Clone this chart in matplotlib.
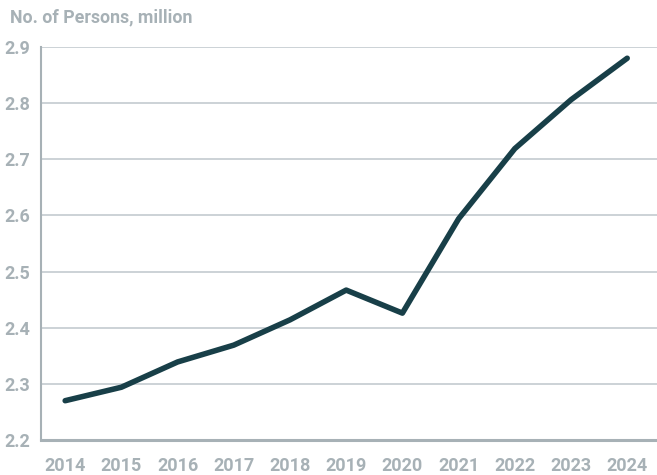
import matplotlib
matplotlib.use("Agg")
import matplotlib.pyplot as plt

years = [2014, 2015, 2016, 2017, 2018, 2019, 2020, 2021, 2022, 2023, 2024]
persons = [2.270, 2.294, 2.339, 2.369, 2.414, 2.467, 2.426, 2.594, 2.719, 2.806, 2.880]
y_ticks = [2.2, 2.3, 2.4, 2.5, 2.6, 2.7, 2.8, 2.9]

text_col = "#a7b1b6"
grid_col = "#c3cbcf"
line_col = "#183f48"

plt.rcParams["font.family"] = ["Roboto", "DejaVu Sans"]

fig = plt.figure(figsize=(6.57, 4.75), dpi=100)
ax = fig.add_axes([41 / 657, 1 - 440 / 475, 1 - 41 / 657, (440 - 47) / 475])

ax.plot(years, persons, color=line_col, linewidth=4, solid_capstyle="round",
        solid_joinstyle="round", zorder=3)

ax.set_xlim(2013.57, 2024.53)
ax.set_ylim(2.2, 2.9)
ax.set_xticks(years)
ax.set_yticks(y_ticks)
ax.set_yticklabels([f"{v:.1f}" for v in y_ticks])

for v in y_ticks[1:]:
    ax.axhline(v, color=grid_col, linewidth=1.2, zorder=1)

for s in ["top", "right"]:
    ax.spines[s].set_visible(False)
ax.spines["left"].set_color(text_col)
ax.spines["left"].set_linewidth(1.5)
ax.spines["bottom"].set_color(text_col)
ax.spines["bottom"].set_linewidth(2.2)

ax.tick_params(length=0, labelcolor=text_col, labelsize=13)
ax.tick_params(axis="x", pad=12)
ax.tick_params(axis="y", pad=8)
for lbl in ax.get_xticklabels() + ax.get_yticklabels():
    lbl.set_fontweight("bold")

fig.text(10 / 657, 1 - 17 / 475, "No. of Persons, million", color=text_col,
         fontsize=12.8, fontweight="bold", va="center", ha="left")

fig.savefig("out.png", dpi=100)
